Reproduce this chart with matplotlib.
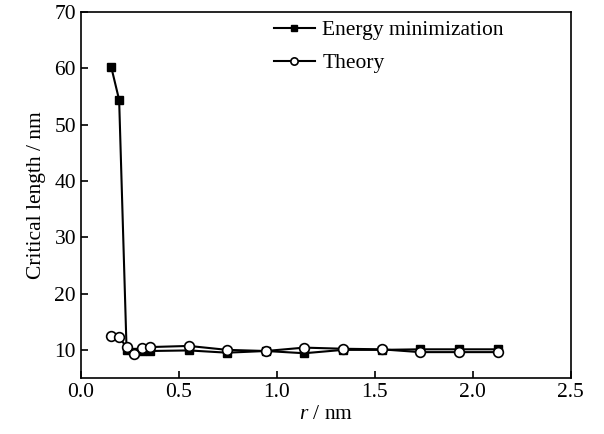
import matplotlib.pyplot as plt

plt.rcParams['font.family'] = ['Liberation Serif', 'DejaVu Serif']
plt.rcParams['mathtext.fontset'] = 'custom'
plt.rcParams['mathtext.it'] = 'Liberation Serif:italic'
plt.rcParams['mathtext.rm'] = 'Liberation Serif'

r = [0.155, 0.195, 0.233, 0.272, 0.313, 0.354, 0.551, 0.746, 0.944,
     1.140, 1.338, 1.534, 1.730, 1.930, 2.129]
energy = [60.2, 54.4, 10.0, 9.7, 9.8, 9.8, 9.9, 9.5, 9.8,
          9.4, 10.0, 10.0, 10.1, 10.1, 10.1]
theory = [12.5, 12.2, 10.5, 9.2, 10.4, 10.5, 10.7, 10.0, 9.8,
          10.4, 10.2, 10.1, 9.6, 9.6, 9.6]

fs = 15.5

fig = plt.figure(figsize=(6.04, 4.34), dpi=100)
ax = fig.add_axes([0.134, 0.129, 0.811, 0.843])

ax.plot(r, energy, color='black', lw=1.5, marker='s', ms=5.5,
        label='Energy minimization')
ax.plot(r, theory, color='black', lw=1.5, marker='o', ms=7,
        mfc='white', mec='black', mew=1.2, label='Theory')

ax.set_xlim(0, 2.5)
ax.set_ylim(5, 70)
ax.set_xticks([0.0, 0.5, 1.0, 1.5, 2.0, 2.5])
ax.set_xticklabels(['0.0', '0.5', '1.0', '1.5', '2.0', '2.5'])
ax.set_yticks([10, 20, 30, 40, 50, 60, 70])
ax.tick_params(direction='in', labelsize=fs, length=5, width=1.2)
for s in ax.spines.values():
    s.set_linewidth(1.2)

ax.set_xlabel(r'$\it{r}$ / nm', fontsize=fs, labelpad=2)
ax.set_ylabel('Critical length / nm', fontsize=fs, labelpad=6)

ax.legend(loc='upper left', bbox_to_anchor=(0.394, 0.978), frameon=False,
          fontsize=fs, handlelength=1.9, handletextpad=0.35, labelspacing=0.6,
          borderpad=0, borderaxespad=0, markerscale=0.75)

fig.savefig('out.png', dpi=100)
